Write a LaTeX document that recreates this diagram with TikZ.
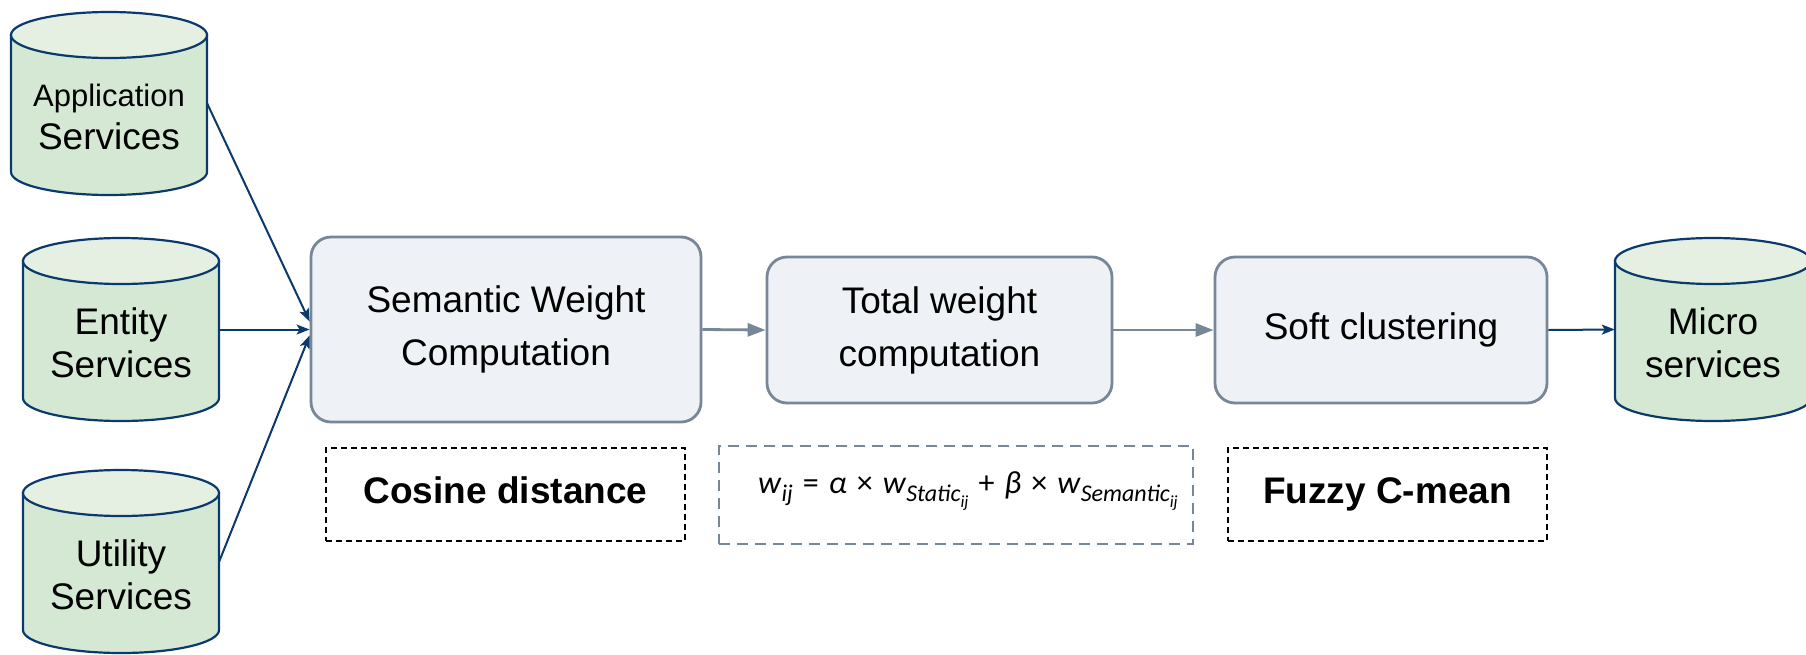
\documentclass[tikz,border=0pt]{standalone}
\usepackage{fontspec}
\setmainfont{Liberation Sans}
\newfontfamily\eqfont{Carlito}
\usetikzlibrary{arrows.meta,calc}

\definecolor{cylline}{HTML}{0A3A6C}
\definecolor{cylbody}{HTML}{D5E8D4}
\definecolor{cyltopc}{HTML}{E5EFE2}
\definecolor{procfill}{HTML}{EEF2F7}
\definecolor{procline}{HTML}{778797}

% subscripted weight symbols for the formula
\newcommand\wsub[1]{\textit{w}\raisebox{-8pt}{\fontsize{24}{24}\selectfont\textit{#1}}}
\newcommand\ssub[1]{#1\raisebox{-6pt}{\fontsize{17}{17}\selectfont\textit{ij}}}
\newcommand\eqop[1]{\hspace{10pt}#1\hspace{10pt}}

% cylinder: name, centre x, top y, label
\newcommand\cylnode[4]{%
  \filldraw[cylside] (#2-98,#3+23) -- (#2-98,#3+160)
    arc[start angle=180,end angle=0,x radius=98,y radius=23]
    -- (#2+98,#3+23) -- cycle;
  \filldraw[cyltop] (#2,#3+23) ellipse[x radius=98,y radius=23];
  \node[cylshape] (#1) at (#2,#3+91.5) {};
  \node[cyltext] (#1-t) at (#2,#3+105) {#4};
}

\begin{document}
\begin{tikzpicture}[x=1pt,y=-1pt,
  cylside/.style={fill=cylbody,draw=cylline,line width=2.2pt},
  cyltop/.style={fill=cyltopc,draw=cylline,line width=2.2pt},
  cylshape/.style={minimum width=196pt,minimum height=183pt,inner sep=0pt},
  cyltext/.style={align=center,font=\fontsize{37}{43}\selectfont,inner sep=0pt},
  proc/.style={draw=procline,fill=procfill,line width=2.8pt,rounded corners=20pt,
    align=center,font=\fontsize{37}{53}\selectfont,inner sep=0pt},
  note/.style={draw=black,line width=1.6pt,dash pattern=on 6pt off 4pt,
    font=\bfseries\fontsize{37}{43}\selectfont,inner sep=0pt,
    text height=26.5pt,text depth=7.8pt},
  eqnote/.style={draw=procline,line width=2.8pt,dash pattern=on 11pt off 7pt,inner sep=0pt},
  eqtext/.style={font=\eqfont\fontsize{32}{36}\selectfont,inner sep=0pt,anchor=base},
  feed/.style={draw=cylline,line width=2pt,-{Stealth[length=13pt,width=10pt,inset=3pt]}},
  flow/.style={draw=procline,line width=2.8pt,-{Triangle[length=18pt,width=13pt]}}]

\fill[white] (0,0) rectangle (1806,654);
\useasboundingbox (0,0) rectangle (1806,654);

% data stores
\cylnode{app}{109}{12}{{\fontsize{31}{43}\selectfont Application}\\Services}
\cylnode{ent}{121}{238}{Entity\\Services}
\cylnode{uti}{121}{470}{Utility\\Services}
\cylnode{mic}{1713}{238}{Micro\\services}

% processing steps
\node[proc,minimum width=390pt,minimum height=185pt] (sem) at (506,329.5)
  {Semantic Weight\\Computation};
\node[proc,minimum width=345pt,minimum height=146pt] (tot) at (939.5,330)
  {Total weight\\computation};
\node[proc,minimum width=332pt,minimum height=146pt] (soft) at (1381,330)
  {Soft clustering};

% method notes
\node[note,minimum width=359pt,minimum height=93pt] (cos) at (505.5,494.5)
  {Cosine distance};
\node[eqnote,minimum width=474pt,minimum height=98pt] (eq) at (956,495) {};
\node[eqtext] (eq-t) at (968,493)
  {\wsub{ij}\eqop{=}\textit{α}\eqop{×}\wsub{\ssub{Static}}\eqop{+}\textit{β}\eqop{×}\wsub{\ssub{Semantic}}};
\node[note,minimum width=319pt,minimum height=93pt] (fcm) at (1387.5,494.5)
  {Fuzzy C-mean};

% connectors
\draw[feed] (app.east) -- ($(sem.west)+(0,-8)$);
\draw[feed] (ent.east) -- (sem.west);
\draw[feed] (uti.east) -- ($(sem.west)+(0,6)$);
\draw[flow] (sem.east) -- (tot.west);
\draw[flow] (tot.east) -- (soft.west);
\draw[feed] (soft.east) -- (mic.west);
\end{tikzpicture}
\end{document}
